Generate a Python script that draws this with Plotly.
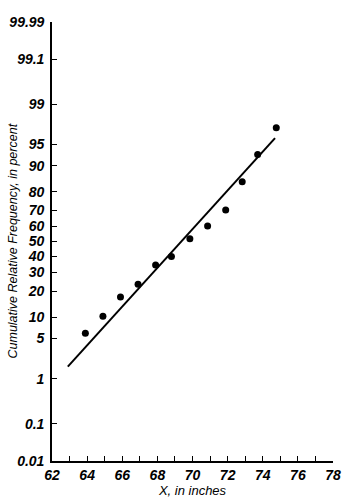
from statistics import NormalDist
import plotly.graph_objects as go

# Data
x_inches = [63.9, 64.9, 65.9, 66.9, 67.9, 68.8, 69.85, 70.86, 71.89, 72.83, 73.71, 74.77]
cum_pct = [6.0, 10.3, 17.4, 23.5, 34.6, 39.9, 51.8, 60.3, 70.3, 84.4, 93.0, 97.3]

# fitted line endpoints
line_x = [62.9, 74.7]
line_pct = [1.7, 96.0]

# probability-axis ticks
ytick_pct = [0.01, 0.1, 1, 5, 10, 20, 30, 40, 50, 60, 70, 80, 90, 95, 99, 99.9, 99.99]
ytick_text = ["0.01", "0.1", "1", "5", "10", "20", "30", "40", "50", "60", "70",
              "80", "90", "95", "99", "99.1", "99.99"]

nd = NormalDist()
def probit(p):
    return nd.inv_cdf(p / 100.0)

FAM = "Liberation Sans"

fig = go.Figure()
fig.add_trace(go.Scatter(
    x=line_x, y=[probit(p) for p in line_pct], mode="lines",
    line=dict(color="black", width=2), hoverinfo="skip"))
fig.add_trace(go.Scatter(
    x=x_inches, y=[probit(p) for p in cum_pct], mode="markers",
    marker=dict(color="black", size=7)))

fig.update_layout(
    width=350, height=504,
    margin=dict(l=52, r=17, t=22, b=43),
    paper_bgcolor="white", plot_bgcolor="white",
    showlegend=False,
    font=dict(family=FAM, color="black", style="italic"),
)
fig.update_xaxes(
    range=[62, 78], tick0=62, dtick=2, automargin=False,
    showline=True, linecolor="black", linewidth=1.6,
    ticks="inside", ticklen=5, tickwidth=1.3, tickcolor="black",
    minor=dict(ticks="inside", dtick=1, tick0=62, ticklen=5, tickwidth=1.3, tickcolor="black"),
    showgrid=False, zeroline=False,
    tickfont=dict(size=14, family=FAM, style="italic", weight="bold", color="black"),
    title=dict(text="X, in inches", standoff=0,
               font=dict(size=13, family=FAM, style="italic", color="black")),
)
fig.update_yaxes(
    range=[probit(0.01), probit(99.99)], automargin=False,
    tickmode="array", tickvals=[probit(p) for p in ytick_pct], ticktext=ytick_text,
    showline=True, linecolor="black", linewidth=1.6,
    ticks="inside", ticklen=5, tickwidth=1.3, tickcolor="black",
    ticklabelstandoff=3,
    showgrid=False, zeroline=False,
    tickfont=dict(size=14, family=FAM, style="italic", weight="bold", color="black"),
)
fig.add_annotation(
    text="Cumulative Relative Frequency, in percent",
    xref="paper", yref="paper", x=0, y=0.5, xshift=-40,
    xanchor="center", yanchor="middle", textangle=-90, showarrow=False,
    font=dict(size=12.5, family=FAM, style="italic", color="black"),
)

fig.write_html("out.html")
